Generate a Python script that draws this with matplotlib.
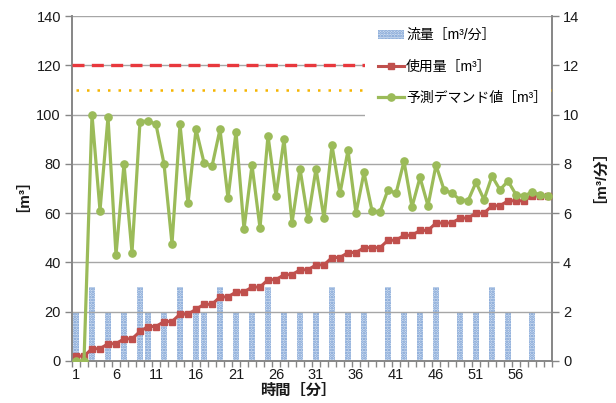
import matplotlib
matplotlib.use("Agg")
import matplotlib.pyplot as plt
from matplotlib.patches import Rectangle, Patch
from matplotlib.lines import Line2D

plt.rcParams["font.family"] = ["Liberation Sans", "Noto Sans CJK JP", "DejaVu Sans"]
plt.rcParams["hatch.linewidth"] = 1.3

# minutes 1..60
minutes = list(range(1, 61))

# flow per minute [m3/min] (right axis)
flow = [2, 0, 3, 0, 2, 0, 2, 0, 3, 2,
        0, 2, 0, 3, 0, 2, 2, 0, 3, 0,
        2, 0, 2, 0, 3, 0, 2, 0, 2, 0,
        2, 0, 3, 0, 2, 0, 2, 0, 0, 3,
        0, 2, 0, 2, 0, 3, 0, 0, 2, 0,
        2, 0, 3, 0, 2, 0, 0, 2, 0, 0]

# cumulative usage [m3] (left axis)
usage = [2, 2, 5, 5, 7, 7, 9, 9, 12, 14,
         14, 16, 16, 19, 19, 21, 23, 23, 26, 26,
         28, 28, 30, 30, 33, 33, 35, 35, 37, 37,
         39, 39, 42, 42, 44, 44, 46, 46, 46, 49,
         49, 51, 51, 53, 53, 56, 56, 56, 58, 58,
         60, 60, 63, 63, 65, 65, 65, 67, 67, 67]

# predicted demand [m3] (left axis)
demand = [0, 0, 100, 61, 99, 43, 80, 44, 97, 97.5,
          96, 80, 47.5, 96, 64, 94, 80.5, 79, 94, 66,
          93, 53.5, 79.5, 54, 91.5, 67, 90, 56, 78, 57.5,
          78, 58, 87.5, 68, 85.5, 60, 76.5, 61, 60.5, 69.5,
          68, 81, 62.5, 74.5, 63, 79.5, 69.5, 68, 65.5, 65,
          72.5, 65.5, 75, 69.5, 73, 67.5, 67, 68.5, 67.5, 67]

upper_limit = 120
warning_level = 110

left_ticks = [0, 20, 40, 60, 80, 100, 120, 140]
right_ticks = [0, 2, 4, 6, 8, 10, 12, 14]
x_label_minutes = [1, 6, 11, 16, 21, 26, 31, 36, 41, 46, 51, 56]

labels = ["流量［m³/分］", "使用量［m³］", "予測デマンド値［m³］"]

W, H = 616, 403
fig = plt.figure(figsize=(W / 100, H / 100), dpi=100)
ax = fig.add_axes([72 / W, 1 - 361 / H, 480 / W, 345 / H])
axb = ax.twinx()
ax.set_zorder(axb.get_zorder() + 1)
ax.patch.set_visible(False)

GRID = "#a6a6a6"
SPINE = "#868686"
RED = "#c0504d"
GREEN = "#9bbb59"

# flow bars
bar_face = "#d2e0f2"
bar_hatch = "#7299d0"
axb.bar(minutes, flow, width=0.66, color=bar_face, edgecolor=bar_hatch,
        hatch="......", linewidth=0, zorder=2)
axb.set_ylim(0, 14)
axb.set_yticks(right_ticks)

# reference levels
ax.axhline(upper_limit, color="#e8383d", lw=2.4, dashes=(3.6, 2.2), zorder=3)
ax.plot([1, 60.5], [warning_level, warning_level], color="#f5b400", lw=1.8,
        dashes=(1.0, 3.2), zorder=3)

# usage and predicted demand
ax.plot(minutes, usage, color=RED, lw=2.2, marker="s", ms=4.2, zorder=5)
ax.plot(minutes, demand, color=GREEN, lw=2.3, marker="o", ms=5.2, zorder=6)

ax.set_xlim(0.5, 60.5)
ax.set_ylim(0, 140)
ax.set_yticks(left_ticks)
ax.yaxis.grid(True, color=GRID, lw=1.0, zorder=1)
ax.set_axisbelow(True)

ax.set_xticks(x_label_minutes)
ax.set_xticks([m + 0.5 for m in range(0, 61)], minor=True)
ax.tick_params(axis="x", which="major", length=0, pad=5, labelsize=10.5,
               colors="#1a1a1a")
ax.tick_params(axis="x", which="minor", length=4.5, width=1.0, color=SPINE,
               direction="out")
ax.tick_params(axis="y", length=5, width=1.0, color=SPINE, labelsize=10.5,
               labelcolor="#1a1a1a", pad=3)
axb.tick_params(axis="y", length=5, width=1.0, color=SPINE, labelsize=10.5,
                labelcolor="#1a1a1a", pad=3)

for a in (ax, axb):
    a.spines["top"].set_visible(False)
    for side in ("left", "right", "bottom"):
        a.spines[side].set_color(SPINE)
        a.spines[side].set_linewidth(1.2)

# white panel behind the legend
ax.add_patch(Rectangle((365 / W, 1 - 118 / H), (551 - 365) / W, (118 - 17.5) / H,
                       transform=fig.transFigure, facecolor="white",
                       edgecolor="none", zorder=8))

handles = [
    Patch(facecolor=bar_face, edgecolor=bar_hatch, hatch="......", linewidth=0),
    Line2D([], [], color=RED, lw=2.2, marker="s", ms=4.2),
    Line2D([], [], color=GREEN, lw=2.3, marker="o", ms=5.2),
]
leg = ax.legend(handles, labels, loc="upper left",
                bbox_to_anchor=(378 / W, 1 - 28 / H), bbox_transform=fig.transFigure,
                frameon=False, fontsize=10, handlelength=1.9, handletextpad=0.12,
                labelspacing=1.25, borderpad=0, borderaxespad=0, handleheight=0.6)
leg.set_zorder(9)

fig.text(298 / W, 1 - 391 / H, "時間［分］", ha="center", va="center",
         fontsize=11, fontweight="bold", color="#1a1a1a")
fig.text(15 / W, 1 - 187 / H, "［m³］", ha="center", va="center", rotation=90,
         fontsize=11, fontweight="bold", color="#1a1a1a")
fig.text(592 / W, 1 - 169 / H, "［m³/分］", ha="center", va="center", rotation=90,
         fontsize=11, fontweight="bold", color="#1a1a1a")

fig.savefig("out.png", dpi=100)
